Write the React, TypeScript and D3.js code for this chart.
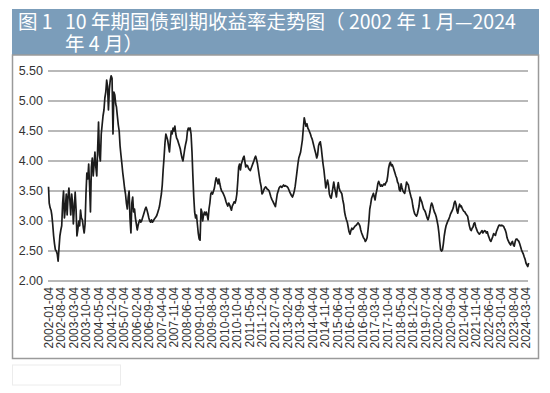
import React from 'react';
import * as d3 from 'd3';
import { useEffect, useRef } from 'react';

// semi-monthly readings of the 10y yield (%), first and second half of each month
const yields2002to2007: number[] = [
  3.57, 3.30, 3.22, 3.18, 3.10, 2.95, 2.75, 2.62, 2.52, 2.50, 2.45, 2.33, 2.55, 2.75, 2.85, 2.92, 3.30, 3.50, 3.05, 3.20, 3.45, 3.10, 3.40, 3.55,
  3.35, 3.10, 3.45, 3.30, 2.95, 3.20, 3.48, 3.20, 2.75, 2.85, 3.00, 2.92, 3.18, 3.05, 3.02, 2.90, 2.80, 2.95, 3.45, 3.80, 3.70, 3.95, 3.60, 3.15,
  3.90, 4.05, 3.75, 3.95, 4.15, 3.90, 3.75, 4.20, 4.65, 4.10, 4.00, 4.45, 4.60, 4.75, 4.85, 5.05, 5.15, 5.35, 5.25, 4.85, 5.20, 5.35, 5.42, 5.38,
  4.45, 5.15, 5.10, 4.95, 4.90, 4.75, 4.60, 4.50, 4.25, 4.10, 3.95, 3.80, 3.68, 3.55, 3.45, 3.30, 3.20, 3.40, 3.50, 3.05, 2.80, 3.30, 3.40, 3.15,
  3.20, 3.05, 2.95, 2.85, 2.92, 2.98, 3.02, 2.98, 3.00, 3.05, 3.10, 3.15, 3.20, 3.23, 3.18, 3.12, 3.05, 3.00, 2.98, 3.02, 2.98, 3.00, 3.03, 3.05,
  3.07, 3.10, 3.15, 3.20, 3.25, 3.35, 3.45, 3.60, 3.85, 4.05, 4.30, 4.45, 4.40, 4.35, 4.25, 4.15, 4.35, 4.50, 4.45, 4.55, 4.50, 4.58, 4.45, 4.38,
];
const yields2008to2013: number[] = [
  4.35, 4.30, 4.25, 4.20, 4.12, 4.05, 4.00, 4.10, 4.20, 4.28, 4.35, 4.50, 4.55, 4.52, 4.55, 4.45, 4.15, 3.75, 3.40, 3.15, 3.05, 3.10, 2.95, 2.80,
  2.70, 2.68, 3.20, 3.15, 3.00, 3.10, 3.15, 3.10, 3.15, 3.10, 3.02, 3.20, 3.30, 3.45, 3.48, 3.45, 3.50, 3.55, 3.65, 3.72, 3.68, 3.62, 3.70, 3.62,
  3.55, 3.50, 3.48, 3.45, 3.42, 3.38, 3.32, 3.28, 3.25, 3.30, 3.27, 3.22, 3.18, 3.25, 3.28, 3.32, 3.30, 3.35, 3.45, 3.65, 3.90, 3.95, 3.85, 3.95,
  4.00, 4.05, 4.08, 3.98, 3.90, 3.93, 3.92, 3.88, 3.86, 3.84, 3.88, 3.92, 3.96, 4.00, 4.05, 4.08, 4.02, 3.95, 3.85, 3.75, 3.65, 3.58, 3.45, 3.47,
  3.52, 3.55, 3.57, 3.55, 3.53, 3.52, 3.50, 3.45, 3.40, 3.36, 3.33, 3.30, 3.27, 3.24, 3.35, 3.45, 3.50, 3.55, 3.57, 3.58, 3.56, 3.58, 3.60, 3.58,
  3.59, 3.58, 3.57, 3.55, 3.52, 3.48, 3.45, 3.42, 3.40, 3.44, 3.50, 3.58, 3.70, 3.82, 3.95, 4.05, 4.10, 4.15, 4.25, 4.35, 4.55, 4.72, 4.65, 4.58,
];
const yields2014to2019: number[] = [
  4.62, 4.55, 4.52, 4.48, 4.45, 4.40, 4.36, 4.30, 4.24, 4.18, 4.12, 4.05, 4.10, 4.25, 4.30, 4.32, 4.22, 4.08, 3.95, 3.85, 3.70, 3.55, 3.62, 3.68,
  3.60, 3.45, 3.40, 3.38, 3.45, 3.55, 3.65, 3.55, 3.48, 3.40, 3.55, 3.64, 3.55, 3.50, 3.48, 3.45, 3.35, 3.28, 3.15, 3.08, 3.02, 2.98, 2.90, 2.82,
  2.78, 2.84, 2.88, 2.86, 2.88, 2.90, 2.92, 2.93, 2.95, 2.97, 2.95, 2.92, 2.85, 2.80, 2.76, 2.72, 2.70, 2.66, 2.68, 2.72, 2.85, 3.00, 3.20, 3.28,
  3.38, 3.42, 3.46, 3.40, 3.35, 3.45, 3.52, 3.62, 3.66, 3.62, 3.58, 3.60, 3.58, 3.60, 3.62, 3.60, 3.64, 3.66, 3.75, 3.88, 3.95, 3.98, 3.92, 3.94,
  3.90, 3.85, 3.80, 3.75, 3.72, 3.65, 3.62, 3.52, 3.50, 3.62, 3.55, 3.50, 3.48, 3.46, 3.55, 3.65, 3.62, 3.60, 3.52, 3.46, 3.40, 3.35, 3.25, 3.18,
  3.12, 3.10, 3.08, 3.12, 3.18, 3.25, 3.40, 3.35, 3.32, 3.26, 3.20, 3.18, 3.15, 3.10, 3.05, 3.02, 3.08, 3.15, 3.25, 3.30, 3.26, 3.20, 3.15, 3.12,
];
const yields2020to2024: number[] = [
  3.07, 3.00, 2.92, 2.80, 2.65, 2.52, 2.50, 2.52, 2.62, 2.75, 2.85, 2.92, 2.96, 3.00, 3.03, 3.07, 3.12, 3.15, 3.18, 3.22, 3.30, 3.33, 3.28, 3.18,
  3.13, 3.22, 3.28, 3.24, 3.25, 3.21, 3.18, 3.16, 3.15, 3.12, 3.10, 3.08, 3.00, 2.92, 2.86, 2.84, 2.88, 2.90, 2.96, 2.97, 2.90, 2.86, 2.82, 2.80,
  2.78, 2.80, 2.82, 2.84, 2.80, 2.82, 2.84, 2.83, 2.80, 2.82, 2.76, 2.72, 2.68, 2.66, 2.70, 2.74, 2.79, 2.77, 2.76, 2.82, 2.86, 2.90, 2.93, 2.93,
  2.92, 2.93, 2.92, 2.91, 2.88, 2.85, 2.80, 2.72, 2.68, 2.65, 2.62, 2.60, 2.64, 2.66, 2.60, 2.58, 2.66, 2.70, 2.70, 2.68, 2.66, 2.62, 2.57, 2.52,
  2.48, 2.45, 2.40, 2.36, 2.30, 2.27, 2.24, 2.30,
];

const xTickLabels: string[] = [
  '2002-01-04', '2002-08-04', '2003-03-04', '2003-10-04', '2004-05-04', '2004-12-04', '2005-07-04',
  '2006-02-04', '2006-09-04', '2007-04-04', '2007-11-04', '2008-06-04', '2009-01-04', '2009-08-04',
  '2010-03-04', '2010-10-04', '2011-05-04', '2011-12-04', '2012-07-04', '2013-02-04', '2013-09-04',
  '2014-04-04', '2014-11-04', '2015-06-04', '2016-01-04', '2016-08-04', '2017-03-04', '2017-10-04',
  '2018-05-04', '2018-12-04', '2019-07-04', '2020-02-04', '2020-09-04', '2021-04-04', '2021-11-04',
  '2022-06-04', '2023-01-04', '2023-08-04', '2024-03-04',
];
const yTicks: number[] = [2.0, 2.5, 3.0, 3.5, 4.0, 4.5, 5.0, 5.5];

const titleNumber = '图 1';
const titleLines: string[] = ['10 年期国债到期收益率走势图（ 2002 年 1 月—2024', '年 4 月）'];

const width = 550;
const height = 393;

const App = () => {
  const chartRef = useRef<SVGSVGElement | null>(null);

  useEffect(() => {
    const svg = d3.select(chartRef.current);
    svg.selectAll('*').remove();

    const values = [...yields2002to2007, ...yields2008to2013, ...yields2014to2019, ...yields2020to2024];
    const data = values.map((v, i) => {
      const month = Math.floor(i / 2);
      const day = i % 2 ? 16 : (i === 0 ? 4 : 1);
      return { date: new Date(2002, month, day), value: v };
    });

    const parse = d3.timeParse('%Y-%m-%d');

    const xScale = d3.scaleTime()
      .domain([new Date(2002, 0, 4), new Date(2024, 3, 30)])
      .range([48.5, 529.5]);
    const yScale = d3.scaleLinear().domain([2, 5.5]).range([281, 71]);

    svg.append('rect').attr('width', width).attr('height', height).attr('fill', '#ffffff');

    // title bar
    svg.append('rect')
      .attr('x', 12).attr('y', 9).attr('width', 527).attr('height', 46)
      .attr('fill', '#7b9dba');
    const title = svg.append('g')
      .style('font-family', '"Noto Sans CJK SC", sans-serif')
      .style('font-size', '19.5px')
      .attr('fill', '#ffffff');
    title.append('text').attr('x', 18).attr('y', 29).text(titleNumber);
    const body = title.append('text').attr('x', 65).attr('y', 29);
    titleLines.forEach((t, i) => {
      body.append('tspan').attr('x', 65).attr('dy', i === 0 ? 0 : 21.5).text(t);
    });

    // chart frame
    svg.append('rect')
      .attr('x', 12.5).attr('y', 55).attr('width', 526).attr('height', 303.5)
      .attr('fill', 'none').attr('stroke', '#9a9a9a').attr('stroke-width', 1.5);

    // faint box under the frame
    svg.append('rect')
      .attr('x', 12.5).attr('y', 365).attr('width', 108).attr('height', 20)
      .attr('fill', 'none').attr('stroke', '#ececec').attr('stroke-width', 1);

    // grid lines
    svg.append('g')
      .selectAll('line')
      .data(yTicks)
      .enter()
      .append('line')
      .attr('x1', 48).attr('x2', 528)
      .attr('y1', d => yScale(d)).attr('y2', d => yScale(d))
      .attr('stroke', '#b9b9b9').attr('stroke-width', 2);

    svg.append('g')
      .selectAll('text')
      .data(yTicks)
      .enter()
      .append('text')
      .attr('x', 43).attr('y', d => yScale(d))
      .attr('dy', '0.35em')
      .attr('text-anchor', 'end')
      .style('font-family', '"Liberation Sans", Arial, sans-serif')
      .style('font-size', '12.5px')
      .attr('fill', '#333333')
      .text(d => d.toFixed(2));

    svg.append('g')
      .selectAll('text')
      .data(xTickLabels)
      .enter()
      .append('text')
      .attr('transform', d => `translate(${xScale(parse(d) as Date)},287) rotate(-90)`)
      .attr('dy', '0.35em')
      .attr('text-anchor', 'end')
      .style('font-family', '"Liberation Sans", Arial, sans-serif')
      .style('font-size', '12px')
      .attr('fill', '#333333')
      .text(d => d);

    const line = d3.line<{ date: Date; value: number }>()
      .x(d => xScale(d.date))
      .y(d => yScale(d.value));

    svg.append('path')
      .datum(data)
      .attr('d', line)
      .attr('fill', 'none')
      .attr('stroke', '#1c1c1c')
      .attr('stroke-width', 1.7)
      .attr('stroke-linejoin', 'round');
  }, []);

  return (
    <svg ref={chartRef} width={width} height={height}
      style={{ position: 'absolute', left: 0, top: 0, display: 'block' }}></svg>
  );
};

export default App;
